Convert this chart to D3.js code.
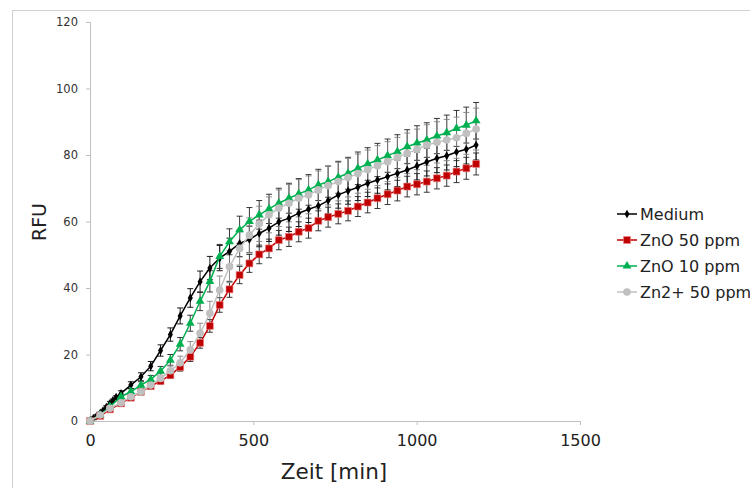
<!DOCTYPE html>
<html><head><meta charset="utf-8">
<script src="https://cdn.jsdelivr.net/npm/d3@7"></script>
<style>body{margin:0;background:#fff}svg{display:block;font-family:"DejaVu Sans",Verdana,sans-serif}</style>
</head><body><svg id="c" width="750" height="488"></svg>
<script>
// Time points (min)
const times = [0,31,61,95,125,156,186,216,246,276,307,337,367,397,427,458,488,518,548,578,609,639,669,699,729,760,790,820,850,880,911,941,971,1001,1031,1062,1092,1122,1152,1182];
// Medium has extra early reads
const mediumExtraTimes = [10,20,40,50,70,80];
const mediumExtraValues = [0.8,1.5,3.1,4.2,6.2,7.2];

const seriesNames = ["Medium","ZnO 50 ppm","ZnO 10 ppm","Zn2+ 50 ppm"];
const mediumValues = [0,2.3,5.3,8.3,10.8,13.3,16.5,21.2,26.0,31.6,37.0,41.9,46.0,49.0,51.0,53.4,54.6,56.4,58.0,59.9,61.0,62.5,63.7,64.7,66.3,68.0,69.2,70.3,71.5,72.5,73.5,74.5,75.5,76.7,77.9,79.0,79.8,80.9,81.7,83.0];
const zno50Values = [0,1.5,3.5,5.3,7.0,8.8,10.5,12.0,13.8,16.2,19.3,23.5,28.6,34.9,39.6,43.9,47.4,50.1,51.9,54.4,55.4,56.9,58.0,60.2,61.3,62.3,63.2,64.5,65.7,67.0,68.2,69.3,70.5,71.2,72.0,73.0,73.8,75.0,76.0,77.3];
const zno10Values = [0,1.8,4.3,7.3,8.8,10.8,12.5,15.0,18.3,23.1,29.4,36.0,42.0,49.5,53.9,57.5,60.0,62.0,63.8,65.5,67.0,68.3,69.5,71.0,72.0,73.3,74.5,76.0,77.3,78.5,79.8,81.0,82.5,83.6,84.5,85.7,86.7,88.0,89.0,90.3];
const zn2Values = [0,1.8,3.8,5.5,7.3,8.8,10.8,12.8,15.1,17.5,21.4,26.4,32.4,39.4,46.4,51.9,55.9,59.3,62.0,64.0,65.5,67.0,68.0,69.5,70.8,72.0,73.2,74.4,75.6,76.8,78.0,79.3,80.5,81.7,83.0,83.8,84.5,85.2,86.5,87.8];

const mediumErr = [0,0.4,0.6,0.8,1.0,1.2,1.4,1.7,2.0,2.4,2.8,3.2,3.5,3.8,4.0,4.0,4.0,4.0,4.0,4.0,4.0,4.0,4.0,4.0,4.0,4.0,4.0,4.0,4.0,4.0,4.0,4.0,4.2,4.2,4.2,4.3,4.3,4.4,4.4,4.5];
const zno50Err = [0,0.3,0.4,0.5,0.6,0.7,0.8,0.9,1.0,1.2,1.4,1.6,1.9,2.2,2.4,2.6,2.7,2.8,2.8,2.9,2.9,3.0,3.0,3.0,3.0,3.0,3.0,3.0,3.1,3.1,3.1,3.1,3.1,3.2,3.2,3.2,3.2,3.3,3.3,3.3];
const zno10Err = [0,0.4,0.6,0.7,0.9,1.0,1.2,1.4,1.7,2.0,2.4,2.8,3.2,3.6,3.9,4.1,4.2,4.3,4.4,4.5,4.5,4.6,4.6,4.7,4.7,4.8,4.8,4.9,4.9,5.0,5.0,5.1,5.1,5.2,5.2,5.3,5.3,5.4,5.4,5.5];
const zn2Err = [0,0.4,0.6,0.7,0.9,1.0,1.2,1.4,1.7,2.0,2.5,3.0,3.6,4.2,4.8,5.0,5.2,5.3,5.4,5.5,5.6,5.6,5.7,5.7,5.8,5.8,5.8,5.9,5.9,6.0,6.0,6.0,6.1,6.1,6.1,6.2,6.2,6.2,6.3,6.3];

const xTicks = [0,500,1000,1500];
const yTicks = [0,20,40,60,80,100,120];

const svg = d3.select("#c");
const x = d3.scaleLinear().domain([0,1500]).range([90,580]);
const y = d3.scaleLinear().domain([0,120]).range([421,22]);

// outer frame
svg.append("rect").attr("x",12.5).attr("y",10.5).attr("width",900).attr("height",600)
  .attr("fill","none").attr("stroke","#d0d0d0").attr("stroke-width",1);

// axes
const yAxis = d3.axisLeft(y).tickValues(yTicks).tickSize(4).tickPadding(8).tickFormat(d3.format("d"));
const gy = svg.append("g").attr("transform","translate(90,0)").call(yAxis);
gy.select(".domain").attr("stroke","#bfbfbf");
gy.selectAll(".tick line").attr("stroke","#bfbfbf");
gy.selectAll(".tick text").attr("font-size",11.5).attr("fill","#333").attr("font-family","DejaVu Sans");

const xAxis = d3.axisBottom(x).tickValues(xTicks).tickSize(4).tickPadding(10).tickFormat(d3.format("d"));
const gx = svg.append("g").attr("transform","translate(0,421)").call(xAxis);
gx.select(".domain").attr("stroke","#bfbfbf");
gx.selectAll(".tick line").attr("stroke","#bfbfbf");
gx.selectAll(".tick text").attr("font-size",16).attr("fill","#222").attr("font-family","DejaVu Sans");

svg.append("text").attr("transform","translate(46,222) rotate(-90)").attr("text-anchor","middle")
  .attr("font-size",19).attr("fill","#222").text("RFU");
svg.append("text").attr("x",334).attr("y",479).attr("text-anchor","middle")
  .attr("font-size",21.5).attr("fill","#222").text("Zeit [min]");

const mediumPts = times.map((t,i)=>({t,v:mediumValues[i],e:mediumErr[i]}))
  .concat(mediumExtraTimes.map((t,i)=>({t,v:mediumExtraValues[i],e:0.4})))
  .sort((a,b)=>a.t-b.t);
const series = [
  {name:seriesNames[0], pts:mediumPts, color:"#000000", err:"#000000", shape:d3.symbolDiamond, size:22, stroke:"none"},
  {name:seriesNames[1], pts:times.map((t,i)=>({t,v:zno50Values[i],e:zno50Err[i]})), color:"#c00000", err:"#222222", shape:d3.symbolSquare, size:48, stroke:"#f08080"},
  {name:seriesNames[2], pts:times.map((t,i)=>({t,v:zno10Values[i],e:zno10Err[i]})), color:"#00b050", err:"#222222", shape:d3.symbolTriangle, size:34, stroke:"none"},
  {name:seriesNames[3], pts:times.map((t,i)=>({t,v:zn2Values[i],e:zn2Err[i]})), color:"#c0c0c0", err:"#808080", shape:d3.symbolCircle, size:46, stroke:"none"}
];

const line = d3.line().x(d=>x(d.t)).y(d=>y(d.v));
// error bars first
series.forEach(s=>{
  const g = svg.append("g");
  s.pts.filter(d=>d.e>0).forEach(d=>{
    const cx = x(d.t), y1 = y(d.v+d.e), y2 = y(d.v-d.e);
    g.append("line").attr("x1",cx).attr("x2",cx).attr("y1",y1).attr("y2",y2).attr("stroke",s.err).attr("stroke-width",0.9);
    g.append("line").attr("x1",cx-3).attr("x2",cx+3).attr("y1",y1).attr("y2",y1).attr("stroke",s.err).attr("stroke-width",0.9);
    g.append("line").attr("x1",cx-3).attr("x2",cx+3).attr("y1",y2).attr("y2",y2).attr("stroke",s.err).attr("stroke-width",0.9);
  });
});
series.forEach(s=>{
  svg.append("path").datum(s.pts).attr("d",line).attr("fill","none").attr("stroke",s.color).attr("stroke-width",1.5);
  svg.append("g").selectAll("path").data(s.pts).join("path")
    .attr("transform",d=>`translate(${x(d.t)},${y(d.v)})`)
    .attr("d",d3.symbol().type(s.shape).size(s.size))
    .attr("fill",s.color).attr("stroke",s.stroke).attr("stroke-width",0.6);
});

// legend
const lg = svg.append("g");
series.forEach((s,i)=>{
  const ly = 214 + i*26;
  lg.append("line").attr("x1",617).attr("x2",637).attr("y1",ly).attr("y2",ly).attr("stroke",s.color).attr("stroke-width",1.5);
  lg.append("path").attr("transform",`translate(627,${ly})`).attr("d",d3.symbol().type(s.shape).size(s.size))
    .attr("fill",s.color).attr("stroke",s.stroke).attr("stroke-width",0.6);
  lg.append("text").attr("x",640).attr("y",ly+6).attr("font-size",16).attr("fill","#222").text(s.name);
});
</script></body></html>
